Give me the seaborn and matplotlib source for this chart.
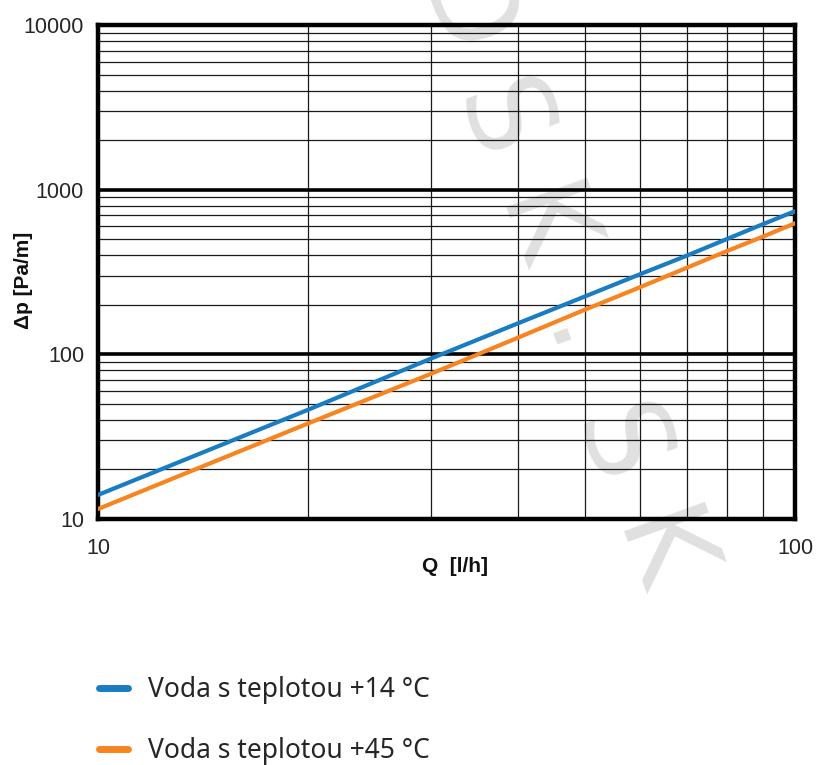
import numpy as np
import pandas as pd
import matplotlib
matplotlib.use("Agg")
import matplotlib.pyplot as plt
import seaborn as sns
from matplotlib.ticker import FixedLocator, FuncFormatter, NullFormatter, LogLocator
from matplotlib.lines import Line2D

# ---------------------------------------- DATA ---------------------------------------- #
Q = [10, 20, 30, 40, 50, 60, 70, 80, 90, 100]
dp_14 = [14, 46, 94, 154, 225, 307, 398, 503, 618, 740]
dp_45 = [11.5, 38, 76, 126, 187, 256, 336, 425, 519, 625]
labels = ["Voda s teplotou +14 °C", "Voda s teplotou +45 °C"]
x_ticks = [10, 100]
y_ticks = [10, 100, 1000, 10000]

blue = "#1a7cc1"
orange = "#f7841f"

sns.set_style("white")
plt.rcParams["font.family"] = ["Liberation Sans", "DejaVu Sans"]

df = pd.DataFrame({
    "Q": Q + Q,
    "dp": dp_14 + dp_45,
    "serie": [labels[0]] * len(Q) + [labels[1]] * len(Q),
})

W, H = 817, 765
fig = plt.figure(figsize=(W / 100, H / 100), dpi=100)
ax = fig.add_axes([98 / W, 1 - 519 / H, 697 / W, 494 / H])

sns.lineplot(data=df, x="Q", y="dp", hue="serie", palette=[blue, orange],
             linewidth=3, ax=ax, legend=False, zorder=3)

ax.set_xscale("log")
ax.set_yscale("log")
ax.set_xlim(10, 100)
ax.set_ylim(10, 10000)

ax.xaxis.set_major_locator(FixedLocator(x_ticks))
ax.yaxis.set_major_locator(FixedLocator(y_ticks))
ax.xaxis.set_minor_locator(LogLocator(base=10, subs=np.arange(2, 10)))
ax.yaxis.set_minor_locator(LogLocator(base=10, subs=np.arange(2, 10)))
fmt = FuncFormatter(lambda v, p: f"{v:g}")
ax.xaxis.set_major_formatter(fmt)
ax.yaxis.set_major_formatter(fmt)
ax.xaxis.set_minor_formatter(NullFormatter())
ax.yaxis.set_minor_formatter(NullFormatter())

ax.set_axisbelow(True)
ax.grid(which="minor", color="#1a1a1a", linewidth=0.9)
ax.grid(which="major", color="black", linewidth=2.6)

for s in ax.spines.values():
    s.set_linewidth(3.2)
    s.set_color("black")

ax.tick_params(which="major", direction="out", length=6, width=2, color="black",
               labelsize=15.5, labelcolor="#262626", pad=4)
ax.tick_params(which="minor", length=0)
ax.tick_params(axis="x", pad=8)

ax.set_xlabel("Q  [l/h]", fontsize=15, fontweight="bold", color="#111111")
ax.set_ylabel("Δp [Pa/m]", fontsize=15, fontweight="bold", color="#111111")
ax.xaxis.set_label_coords(0.512, -0.077)
ax.yaxis.set_label_coords(-0.093, 0.484)

# watermark: letter-spaced "DSK.SK" running down at 70 degrees
ang = np.deg2rad(70)
u = np.array([np.cos(ang), np.sin(ang)])     # reading direction (pixels, y down)
n = np.array([-np.sin(ang), np.cos(ang)])    # towards the letters' bottom
for i, ch in enumerate("DSK.SK"):
    px = (170 + 115 * i) * u - 393 * n
    ax.text(px[0] / W, 1 - px[1] / H, ch, transform=fig.transFigure,
            rotation=-70, rotation_mode="anchor", ha="center", va="baseline",
            fontsize=84, color="#e0e0e0", family="DejaVu Sans",
            clip_on=False, zorder=0.2)

handles = [Line2D([], [], color=blue, linewidth=5, solid_capstyle="round"),
           Line2D([], [], color=orange, linewidth=5, solid_capstyle="round")]
fig.legend(handles, labels, loc="upper left", bbox_to_anchor=(99 / W, 1 - 676 / H),
           frameon=False, handlelength=1.1, handletextpad=0.75,
           labelspacing=1.25, borderpad=0, borderaxespad=0,
           prop={"family": ["Noto Sans", "DejaVu Sans"], "size": 19})

fig.savefig("out.png", dpi=100)
